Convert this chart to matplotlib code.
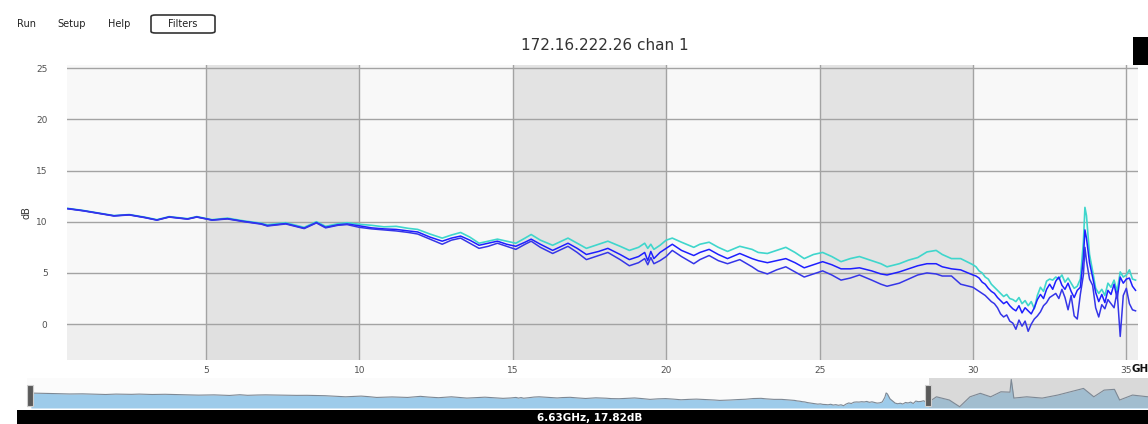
import matplotlib
matplotlib.use("Agg")
import matplotlib.pyplot as plt
from matplotlib.patches import Rectangle, FancyBboxPatch
import numpy as np

# ---------------- data ----------------
freq_ghz = [0.5, 1.0, 1.5, 2.0, 2.5, 3.0, 3.4, 3.8, 4.4, 4.7, 5.2, 5.7, 6.2, 6.8, 7.0,
            7.6, 8.2, 8.6, 8.9, 9.3, 9.6,
            10.0, 10.4, 10.8, 11.2, 11.6, 11.9, 12.3, 12.7, 13.0, 13.3, 13.6, 13.9, 14.2,
            14.5, 14.8, 15.1, 15.4, 15.6, 15.9, 16.3, 16.8, 17.1, 17.4, 17.8, 18.1, 18.5,
            18.8, 19.1, 19.3, 19.4, 19.5, 19.6, 19.8, 20.0, 20.2, 20.5, 20.9, 21.1, 21.4,
            21.7, 22.0, 22.4, 22.8, 23.0, 23.3, 23.6, 23.9, 24.2, 24.5, 24.8, 25.1, 25.4,
            25.7, 26.0, 26.3, 26.7, 27.0, 27.2, 27.6, 27.9, 28.2, 28.5, 28.8, 29.0, 29.3,
            29.6, 30.0,
            30.1, 30.2, 30.3, 30.4, 30.5, 30.6, 30.7, 30.8, 30.9, 31.0, 31.1, 31.2, 31.3,
            31.4, 31.5, 31.6, 31.7, 31.8, 31.9, 32.0, 32.1, 32.2, 32.3, 32.4, 32.5, 32.6,
            32.7, 32.8, 32.9, 33.0, 33.1, 33.2, 33.3, 33.4, 33.5, 33.6, 33.65, 33.7, 33.8,
            33.9, 34.0, 34.1, 34.2, 34.3, 34.4, 34.5, 34.6, 34.7, 34.8, 34.9, 35.0, 35.1,
            35.2, 35.3]

cyan_db = [11.3, 11.1, 10.85, 10.6, 10.7, 10.45, 10.2, 10.5, 10.3, 10.5, 10.2, 10.35, 10.1,
           9.85, 9.7, 9.9, 9.45, 10.0, 9.55, 9.8, 9.9,
           9.75, 9.65, 9.5, 9.55, 9.35, 9.25, 8.8, 8.4, 8.7, 8.95, 8.5, 7.9, 8.1,
           8.3, 8.1, 7.9, 8.4, 8.75, 8.2, 7.7, 8.4, 7.9, 7.4, 7.8, 8.1, 7.6,
           7.2, 7.5, 7.9, 7.4, 7.8, 7.3, 7.7, 8.2, 8.4, 8.0, 7.5, 7.8, 8.0,
           7.5, 7.1, 7.6, 7.3, 7.0, 6.9, 7.2, 7.5, 7.0, 6.4, 6.8, 7.0, 6.6,
           6.1, 6.4, 6.6, 6.2, 5.9, 5.6, 5.9, 6.25, 6.5, 7.05, 7.2, 6.8, 6.4,
           6.4, 5.8,
           5.6, 5.2, 5.0, 4.6, 4.4, 3.9, 3.6, 3.3, 3.0, 2.7, 2.9, 2.5, 2.4,
           2.2, 2.6, 2.0, 2.3, 1.8, 2.2, 1.5, 2.8, 3.6, 3.2, 4.2, 4.4, 4.3,
           4.6, 4.4, 4.8, 4.1, 4.5, 4.0, 3.5, 3.7, 4.4, 8.0, 11.4, 10.6, 6.8,
           5.2, 3.5, 3.0, 3.4, 2.8, 4.0, 3.6, 4.3, 3.2, 5.1, 4.6, 4.8, 5.3,
           4.4, 4.3]

blue1_db = [11.28, 11.08, 10.83, 10.58, 10.68, 10.42, 10.17, 10.47, 10.27, 10.47, 10.17,
            10.3, 10.05, 9.8, 9.62, 9.82, 9.37, 9.92, 9.45, 9.7, 9.78,
            9.6, 9.4, 9.3, 9.25, 9.1, 9.0, 8.5, 8.1, 8.4, 8.6, 8.2, 7.7, 7.9,
            8.1, 7.8, 7.6, 8.0, 8.3, 7.8, 7.2, 7.9, 7.4, 6.8, 7.1, 7.4, 6.8,
            6.3, 6.6, 7.0, 6.2, 7.1, 6.4, 7.0, 7.4, 7.8, 7.2, 6.7, 7.0, 7.3,
            6.8, 6.4, 6.9, 6.4, 6.2, 6.0, 6.2, 6.4, 6.0, 5.5, 5.8, 6.1, 5.8,
            5.4, 5.4, 5.5, 5.2, 4.9, 4.8, 5.1, 5.4, 5.7, 5.9, 5.9, 5.6, 5.4,
            5.3, 4.8,
            4.7, 4.5, 4.1, 3.9, 3.5, 3.2, 3.0, 2.6, 2.3, 2.0, 2.2, 1.8, 1.5,
            1.3, 1.8, 1.1, 1.6, 1.3, 1.0, 1.6, 2.4, 2.9, 2.5, 3.4, 3.9, 3.4,
            4.2, 4.6, 3.8, 3.4, 4.0, 3.2, 2.6, 3.3, 3.6, 6.5, 9.2, 8.4, 6.0,
            4.6, 3.1, 2.2, 2.9, 2.1, 3.3, 2.9, 3.9, 2.5, 4.6, 4.0, 4.4, 4.5,
            3.7, 3.3]

blue2_db = [11.26, 11.06, 10.81, 10.56, 10.66, 10.4, 10.15, 10.45, 10.25, 10.45, 10.15,
            10.27, 10.02, 9.76, 9.58, 9.78, 9.33, 9.88, 9.4, 9.65, 9.72,
            9.45, 9.3, 9.2, 9.1, 8.95, 8.8, 8.3, 7.8, 8.2, 8.4, 7.9, 7.4, 7.6,
            7.9, 7.6, 7.3, 7.8, 8.1, 7.5, 6.9, 7.6, 7.0, 6.3, 6.7, 7.0, 6.3,
            5.7, 6.0, 6.4, 5.8, 6.5, 5.9, 6.2, 6.6, 7.2, 6.6, 5.9, 6.3, 6.7,
            6.2, 5.9, 6.3, 5.6, 5.2, 4.9, 5.3, 5.6, 5.1, 4.6, 4.9, 5.2, 4.8,
            4.3, 4.5, 4.8, 4.3, 3.9, 3.7, 4.0, 4.4, 4.8, 5.0, 4.9, 4.7, 4.7,
            3.9, 3.6,
            3.4, 3.2, 3.0, 2.8, 2.5, 2.2, 2.0, 1.6, 1.0, 0.7, 0.9, 0.3, 0.1,
            -0.5, 0.4, -0.2, 0.3, -0.7, 0.0, 0.5, 0.8, 1.2, 1.8, 2.1, 2.6, 2.8,
            3.0, 2.5, 3.4, 2.6, 1.4, 2.8, 0.8, 0.5, 2.9, 4.8, 7.5, 6.2, 4.4,
            3.8, 1.6, 0.7, 1.9, 1.5, 2.4, 2.0, 1.6, 3.2, -1.2, 2.8, 3.5, 2.0,
            1.4, 1.3]

# overview strip beyond the zoomed range
overview_extra_freq = [35.6, 36.1, 36.5, 36.9, 37.3, 37.7, 38.1, 38.45, 38.5, 38.6, 39.1,
                       39.7, 40.3, 40.8, 41.3, 41.7, 42.1, 42.5, 42.7, 43.2, 43.8]
overview_extra_db = [8.4, 5.9, 0.7, 8.4, 11.1, 8.4, 12.3, 12.0, 21.9, 7.4, 8.4,
                     7.4, 9.75, 12.3, 14.9, 8.4, 13.6, 14.2, 5.9, 9.75, 8.4]

x_ticks = [5, 10, 15, 20, 25, 30, 35]
y_ticks = [0, 5, 10, 15, 20, 25]
shaded_bands = [(5, 10), (15, 20), (25, 30)]

title_text = "172.16.222.26 chan 1"
status_text = "6.63GHz, 17.82dB"
unit_text = "GH"
menu_items = ["Run", "Setup", "Help"]

# ---------------- figure ----------------
W, H = 1148, 424
fig = plt.figure(figsize=(W / 100, H / 100), dpi=100)
fig.patch.set_facecolor("white")


def fx(px):
    return px / W


def fy(py):
    return 1 - py / H


# main axes
ax = fig.add_axes([fx(67), fy(360), (1138 - 67) / W, (360 - 65) / H])
ax.set_facecolor("#f8f8f8")
ax.set_xlim(0.47, 35.38)
ax.set_ylim(-3.5, 25.3)
for a, b in shaded_bands:
    ax.axvspan(a, b, color="#e3e3e3", zorder=0, lw=0)
ax.axhspan(-3.5, 0, color="#dcdcdc", alpha=0.35, zorder=0, lw=0)

ax.set_xticks(x_ticks)
ax.set_yticks(y_ticks)
ax.grid(True, color="#a3a3a3", lw=1.0, zorder=1)
ax.set_axisbelow(True)
for s in ax.spines.values():
    s.set_visible(False)
ax.tick_params(axis="both", length=0, labelsize=6.5, labelcolor="#505050")
ax.tick_params(axis="y", pad=14)
ax.tick_params(axis="x", pad=4)

ax.plot(freq_ghz, cyan_db, color="#3fd6cc", lw=1.2, zorder=3)
ax.plot(freq_ghz, blue1_db, color="#1e1eff", lw=1.1, zorder=4)
ax.plot(freq_ghz, blue2_db, color="#3535e8", lw=1.1, zorder=5)

fig.text(fx(26), fy(213), "dB", rotation=90, fontsize=7, color="#333333",
         ha="center", va="center")
fig.text(fx(1132), fy(369), unit_text, fontsize=7.5, fontweight="bold",
         color="#111111", ha="left", va="center")
fig.text(fx(605), fy(45), title_text, ha="center", va="center", fontsize=11,
         color="#333333")

# menu
menu_x = [17, 57, 108]
for name, px in zip(menu_items, menu_x):
    fig.text(fx(px), fy(24), name, fontsize=7, color="#222222", ha="left", va="center")
fig.patches.append(FancyBboxPatch((fx(151), fy(33)), 64 / W, 18 / H,
                                  boxstyle="round,pad=0,rounding_size=0.004",
                                  transform=fig.transFigure, facecolor="white",
                                  edgecolor="#333333", lw=1.2))
fig.text(fx(183), fy(24), "Filters", fontsize=7, color="#222222", ha="center", va="center")

# black box top right
fig.patches.append(Rectangle((fx(1133), fy(65)), 15 / W, 28 / H, transform=fig.transFigure,
                             facecolor="black", edgecolor="none"))

# overview strip
ax2 = fig.add_axes([fx(27), fy(408), (1148 - 27) / W, (408 - 378) / H])
ax2.set_xlim(0.35, 43.8)
ax2.set_ylim(-0.3, 23)
ax2.set_facecolor("#fbfbfb")
ov_f = np.concatenate([freq_ghz, overview_extra_freq])
ov_d = np.concatenate([cyan_db, overview_extra_db])
ax2.fill_between(ov_f, ov_d, -0.3, color="#9dcbea", lw=0)
ax2.plot(ov_f, ov_d, color="#7d8894", lw=0.8)
ax2.axvspan(35.3, 43.8, color="#a8a8a8", alpha=0.4, lw=0)
ax2.set_xticks([])
ax2.set_yticks([])
for s in ax2.spines.values():
    s.set_visible(False)
for hp in (27, 925):
    fig.patches.append(Rectangle((fx(hp), fy(406)), 6 / W, 21 / H, transform=fig.transFigure,
                                 facecolor="#5a5a5a", edgecolor="#cfcfcf", lw=0.8))

# status bar
fig.patches.append(Rectangle((fx(17), 0), (W - 17) / W, 14 / H, transform=fig.transFigure,
                             facecolor="black", edgecolor="none"))
fig.text(fx(590), fy(418), status_text, fontsize=7.5, fontweight="bold", color="white",
         ha="center", va="center")

fig.savefig("out.png", dpi=100)
